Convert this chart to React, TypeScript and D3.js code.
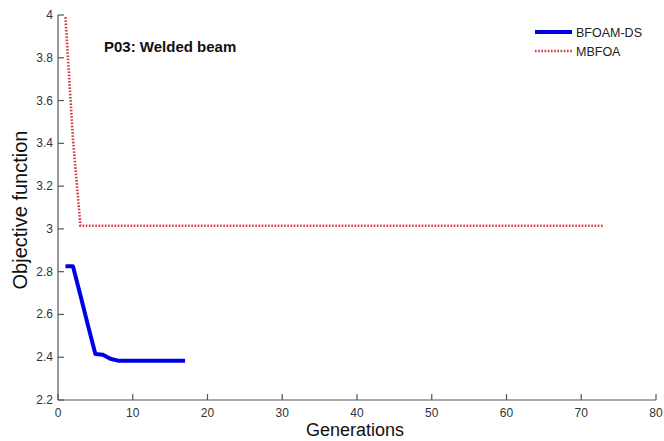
import React from "react";
import * as d3 from "d3";

const bfoamGen = [1, 2, 3, 4, 5, 6, 7, 8, 9, 10, 11, 12, 13, 14, 15, 16, 17];
const bfoamVal = [2.825, 2.825, 2.69, 2.55, 2.415, 2.412, 2.393, 2.384, 2.383, 2.383, 2.383, 2.383, 2.383, 2.383, 2.383, 2.383, 2.383];
const mbfoaGen = [1, 2, 3, 73];
const mbfoaVal = [3.99, 3.42, 3.015, 3.015];
const xTicks = [0, 10, 20, 30, 40, 50, 60, 70, 80];
const yTicks = [2.2, 2.4, 2.6, 2.8, 3, 3.2, 3.4, 3.6, 3.8, 4];
const seriesNames = ["BFOAM-DS", "MBFOA"];
const title = "P03: Welded beam";
const xLabel = "Generations";
const yLabel = "Objective function";

const W = 664, H = 441;
const L = 58, R = 656, T = 15, B = 400;

export default function App() {
  const x = d3.scaleLinear().domain([0, 80]).range([L, R]);
  const y = d3.scaleLinear().domain([2.2, 4]).range([B, T]);
  const line = d3.line<[number, number]>().x(d => x(d[0])).y(d => y(d[1]));
  const blue = bfoamGen.map((g, i) => [g, bfoamVal[i]] as [number, number]);
  const red = mbfoaGen.map((g, i) => [g, mbfoaVal[i]] as [number, number]);
  const font = "'Liberation Sans', Arial, sans-serif";
  return (
    <svg width={W} height={H} style={{ position: "absolute", left: 0, top: 0, background: "#fff" }} fontFamily={font}>
      <rect x={0} y={0} width={W} height={H} fill="#fff" />
      {/* axes */}
      <line x1={L} x2={R} y1={B} y2={B} stroke="#555" strokeWidth={1.2} />
      <line x1={L} x2={L} y1={B} y2={T} stroke="#555" strokeWidth={1.2} />
      {xTicks.map(t => (
        <g key={"x" + t}>
          <line x1={x(t)} x2={x(t)} y1={B} y2={B - 6} stroke="#555" strokeWidth={1.2} />
          <text x={x(t)} y={B + 17} textAnchor="middle" fontSize={12} fill="#333">{t}</text>
        </g>
      ))}
      {yTicks.map(t => (
        <g key={"y" + t}>
          <line x1={L} x2={L + 6} y1={y(t)} y2={y(t)} stroke="#555" strokeWidth={1.2} />
          <text x={L - 5} y={y(t) + 4} textAnchor="end" fontSize={12} fill="#333">{d3.format("")(+t.toFixed(1))}</text>
        </g>
      ))}
      {/* series */}
      <path d={line(red) || ""} fill="none" stroke="#d23c46" strokeWidth={2.6} strokeDasharray="1.6,1.6" />
      <path d={line(blue) || ""} fill="none" stroke="#0000e6" strokeWidth={4} strokeLinejoin="round" />
      {/* title */}
      <text x={104} y={52} fontSize={15} fontWeight="bold" fill="#111">{title}</text>
      {/* legend */}
      <line x1={535} x2={572} y1={32} y2={32} stroke="#0000e6" strokeWidth={4} />
      <text x={576} y={37} fontSize={12.5} fill="#222">{seriesNames[0]}</text>
      <line x1={535} x2={572} y1={51} y2={51} stroke="#d23c46" strokeWidth={2.6} strokeDasharray="1.6,1.6" />
      <text x={576} y={56} fontSize={12.5} fill="#222">{seriesNames[1]}</text>
      {/* axis labels */}
      <text x={355} y={436} textAnchor="middle" fontSize={18} fill="#111">{xLabel}</text>
      <text transform={`translate(27, 210) rotate(-90)`} textAnchor="middle" fontSize={20} fill="#111">{yLabel}</text>
    </svg>
  );
}
